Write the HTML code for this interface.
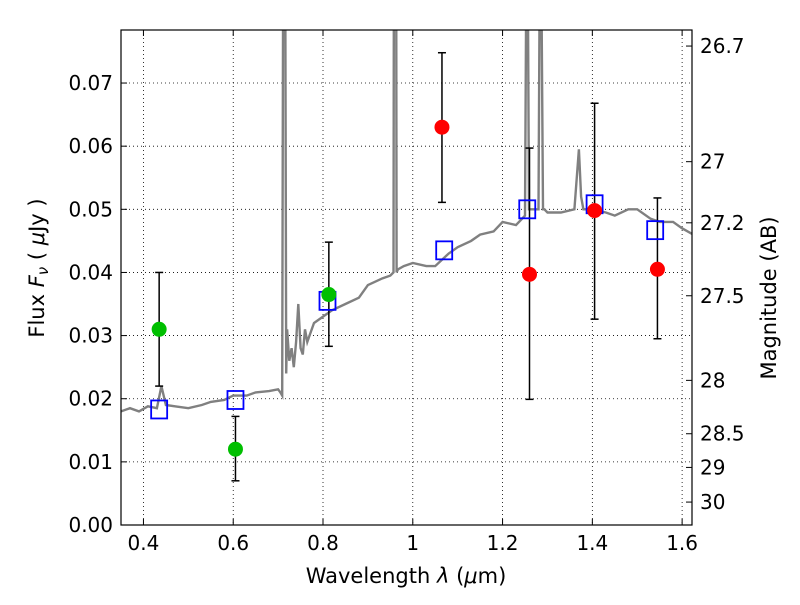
<!DOCTYPE html>
<html><head><meta charset="utf-8"><style>
body{margin:0;background:#fff;}
svg{font-family:"DejaVu Sans","Liberation Sans",sans-serif;}
</style></head><body>
<svg id="c" width="800" height="600"></svg>
<script>
const specX=[0.35,0.37,0.39,0.41,0.43,0.44,0.45,0.47,0.5,0.53,0.55,0.58,0.6,0.63,0.65,0.68,0.7,0.705,0.709,0.711,0.716,0.718,0.72,0.725,0.73,0.735,0.74,0.745,0.75,0.755,0.76,0.765,0.77,0.78,0.8,0.82,0.85,0.88,0.9,0.93,0.95,0.957,0.958,0.963,0.964,0.967,0.98,1.0,1.03,1.05,1.08,1.1,1.13,1.15,1.18,1.2,1.23,1.25,1.253,1.256,1.259,1.262,1.27,1.28,1.283,1.286,1.29,1.293,1.3,1.33,1.36,1.37,1.375,1.38,1.4,1.43,1.45,1.48,1.5,1.53,1.55,1.58,1.6,1.625];
const specY=[0.018,0.0185,0.018,0.0188,0.0185,0.022,0.019,0.0188,0.0185,0.019,0.0195,0.0198,0.0205,0.0205,0.021,0.0212,0.0215,0.021,0.0205,0.085,0.085,0.024,0.031,0.026,0.028,0.025,0.029,0.035,0.028,0.027,0.031,0.029,0.03,0.032,0.033,0.034,0.035,0.036,0.038,0.039,0.0395,0.04,0.09,0.09,0.04,0.0405,0.041,0.0415,0.041,0.041,0.043,0.044,0.045,0.046,0.0465,0.048,0.0475,0.049,0.09,0.09,0.05,0.05,0.05,0.05,0.09,0.09,0.05,0.05,0.0495,0.0495,0.05,0.0595,0.052,0.05,0.05,0.0495,0.049,0.05,0.05,0.0485,0.048,0.048,0.047,0.046];
const greenX=[0.435,0.605,0.813];
const greenY=[0.031,0.012,0.0365];
const greenLo=[0.022,0.007,0.0283];
const greenHi=[0.040,0.0172,0.0448];
const redX=[1.065,1.26,1.405,1.545];
const redY=[0.063,0.0397,0.0498,0.0405];
const redLo=[0.0511,0.0199,0.0326,0.0295];
const redHi=[0.0748,0.0597,0.0668,0.0518];
const sqX=[0.435,0.605,0.81,1.07,1.255,1.405,1.54];
const sqY=[0.0183,0.0198,0.0355,0.0435,0.0500,0.0508,0.0467];
const xTicks=[0.4,0.6,0.8,1,1.2,1.4,1.6];
const xTickLabels=["0.4","0.6","0.8","1","1.2","1.4","1.6"];
const yTicks=[0,0.01,0.02,0.03,0.04,0.05,0.06,0.07];
const magTicks=[26.7,27,27.2,27.5,28,28.5,29,30];

const L=121,R=692,T=30,B=525,X0=0.35,X1=1.622,Y0=0,Y1=0.0784;
const sx=v=>L+(v-X0)/(X1-X0)*(R-L);
const sy=v=>B-(v-Y0)/(Y1-Y0)*(B-T);
const svg=document.getElementById('c');
const NS='http://www.w3.org/2000/svg';
function mk(tag,at,txt){const e=document.createElementNS(NS,tag);for(const k in at)e.setAttribute(k,at[k]);if(txt!==undefined)e.textContent=txt;svg.appendChild(e);return e;}
const defs=mk('defs',{});
const cp=document.createElementNS(NS,'clipPath');cp.setAttribute('id','cp');defs.appendChild(cp);
const rc=document.createElementNS(NS,'rect');rc.setAttribute('x',L);rc.setAttribute('y',T);rc.setAttribute('width',R-L);rc.setAttribute('height',B-T);cp.appendChild(rc);

xTicks.forEach((v,i)=>{
 let g=mk('line',{x1:sx(v),x2:sx(v),y1:T,y2:B,stroke:'#000','stroke-dasharray':'1,3','stroke-width':0.8});
 
 mk('line',{x1:sx(v),x2:sx(v),y1:B,y2:B-6,stroke:'#000'});
 mk('line',{x1:sx(v),x2:sx(v),y1:T,y2:T+6,stroke:'#000'});
 let t=mk('text',{x:sx(v),y:B+25,'text-anchor':'middle','font-size':20},xTickLabels[i]);
 
});
yTicks.forEach(v=>{
 let g=mk('line',{x1:L,x2:R,y1:sy(v),y2:sy(v),stroke:'#000','stroke-dasharray':'1,3','stroke-width':0.8});
 
 mk('line',{x1:L,x2:L+6,y1:sy(v),y2:sy(v),stroke:'#000'});
 let t=mk('text',{x:L-8,y:sy(v)+7,'text-anchor':'end','font-size':20},v.toFixed(2));
 
});
magTicks.forEach(m=>{
 const f=Math.pow(10,(23.9-m)/2.5);const y=sy(f);
 mk('line',{x1:R,x2:R-6,y1:y,y2:y,stroke:'#000'});
 let t=mk('text',{x:R+8,y:y+7,'font-size':20},String(m));
 
});
let d=specX.map((x,i)=>(i?'L':'M')+sx(x).toFixed(1)+','+sy(specY[i]).toFixed(1)).join('');
let sp=mk('path',{d:d,fill:'none',stroke:'#808080','stroke-width':2.4,'clip-path':'url(#cp)'});

function errs(X,lo,hi){X.forEach((x,i)=>{const px=sx(x);
 mk('line',{x1:px,x2:px,y1:sy(lo[i]),y2:sy(hi[i]),stroke:'#000','stroke-width':1.5});
 mk('line',{x1:px-4,x2:px+4,y1:sy(lo[i]),y2:sy(lo[i]),stroke:'#000','stroke-width':1.5});
 mk('line',{x1:px-4,x2:px+4,y1:sy(hi[i]),y2:sy(hi[i]),stroke:'#000','stroke-width':1.5});});}
errs(greenX,greenLo,greenHi);errs(redX,redLo,redHi);
sqX.forEach((x,i)=>{let r=mk('rect',{x:sx(x)-8,y:sy(sqY[i])-9,width:16,height:18,fill:'none',stroke:'#0000ff','stroke-width':1.8});
 });
greenX.forEach((x,i)=>{let c=mk('circle',{cx:sx(x),cy:sy(greenY[i]),r:7.5,fill:'#00bf00'});
 });
redX.forEach((x,i)=>{let c=mk('circle',{cx:sx(x),cy:sy(redY[i]),r:7.5,fill:'#ff0000'});
 });
let fr=mk('rect',{x:L,y:T,width:R-L,height:B-T,fill:'none',stroke:'#000','stroke-width':1.2});

let xt=mk('text',{x:406,y:583,'text-anchor':'middle','font-size':21});
xt.innerHTML='Wavelength  <tspan font-style="italic">λ</tspan> (<tspan font-style="italic">μ</tspan>m)';

let yt=mk('text',{x:0,y:0,'text-anchor':'middle','font-size':21,transform:'translate(44,268) rotate(-90)'});
yt.innerHTML='Flux  <tspan font-style="italic">F</tspan><tspan font-style="italic" font-size="15" dy="4">ν</tspan><tspan dy="-4">  ( </tspan><tspan font-style="italic">μ</tspan>Jy )';

let rt=mk('text',{x:0,y:0,'text-anchor':'middle','font-size':21,transform:'translate(776,298) rotate(-90)'},'Magnitude (AB)');

</script>
</body></html>
